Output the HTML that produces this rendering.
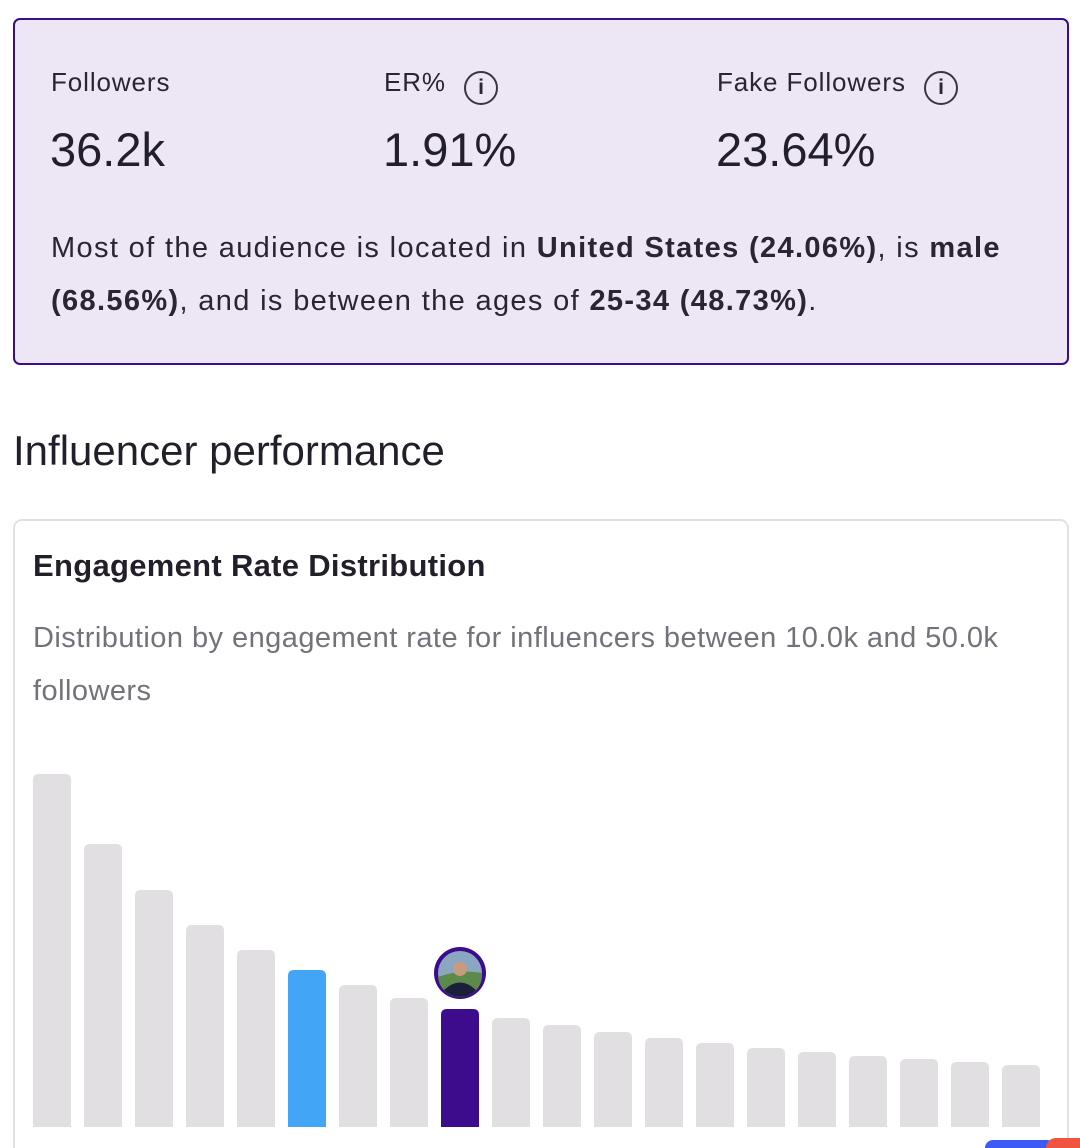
<!DOCTYPE html>
<html><head><meta charset="utf-8"><style>
html,body{margin:0;width:1080px;height:1148px;overflow:hidden}
body{background:#fff;font-family:"Liberation Sans",sans-serif;color:#231f2a;position:relative}
.abs{position:absolute}
#summary{left:13px;top:18px;width:1056px;height:347px;background:#ede6f4;border:2px solid #3d0c8c;border-radius:7px;box-sizing:border-box}
.lbl{font-size:26px;top:67px;color:#2a2530;letter-spacing:0.9px}
.val{font-size:47px;top:122px;color:#231f2a}
.info{display:inline-block;width:34px;height:34px;border:2.5px solid #3a3540;border-radius:50%;box-sizing:border-box;text-align:center;font-size:21px;line-height:29px;font-weight:bold;vertical-align:-3px;margin-left:10px;letter-spacing:0}
#sent{left:51px;top:222px;width:1000px;font-size:29px;line-height:53px;color:#2a2530;letter-spacing:1.35px}
#perf{left:13px;top:427px;font-size:42px;color:#231f2a}
#card{left:13px;top:519px;width:1056px;height:640px;border:2px solid #e2e0e4;border-radius:9px;box-sizing:border-box}
#ctitle{left:33px;top:548px;font-size:31px;font-weight:bold;letter-spacing:0.3px}
#csub{left:33px;top:612px;width:1010px;font-size:29px;line-height:53px;color:#75717a;letter-spacing:0.45px}
</style></head><body>
<div id="summary" class="abs"></div>
<div class="abs lbl" style="left:51px">Followers</div>
<div class="abs val" style="left:50px">36.2k</div>
<div class="abs lbl" style="left:384px">ER% <span class="info">i</span></div>
<div class="abs val" style="left:383px">1.91%</div>
<div class="abs lbl" style="left:717px">Fake Followers <span class="info">i</span></div>
<div class="abs val" style="left:716px">23.64%</div>
<div id="sent" class="abs">Most of the audience is located in <b>United States (24.06%)</b>, is <b>male (68.56%)</b>, and is between the ages of <b>25-34 (48.73%)</b>.</div>
<div id="perf" class="abs">Influencer performance</div>
<div id="card" class="abs"></div>
<div id="ctitle" class="abs">Engagement Rate Distribution</div>
<div id="csub" class="abs">Distribution by engagement rate for influencers between 10.0k and 50.0k followers</div>
<svg id="chart" class="abs" style="left:0;top:0" width="1080" height="1148"></svg>
<div class="abs" style="left:985px;top:1140px;width:70px;height:8px;border-radius:35px 35px 0 0;background:#3b5bf5"></div>
<div class="abs" style="left:1046px;top:1138px;width:34px;height:10px;border-radius:20px 0 0 0;background:#f0533f"></div>
<script>
const bins=["b1","b2","b3","b4","b5","b6","b7","b8","b9","b10","b11","b12","b13","b14","b15","b16","b17","b18","b19","b20"];
const counts=[353,283,237,202,177,157,142,129,118,109,102,95,89,84,79,75,71,68,65,62];
const highlightIndex=5;
const influencerIndex=8;
const NS="http://www.w3.org/2000/svg";
const svg=document.getElementById('chart');
const x0=33,pitch=51,bw=38,base=1127,hmax=353;
const maxV=Math.max(...counts);
function xs(i){return x0+i*pitch;}
function ys(v){return base-v/maxV*hmax;}
counts.forEach((v,i)=>{
  const r=document.createElementNS(NS,'path');
  const x=xs(i),y=ys(v),rr=6;
  r.setAttribute('d',`M${x},${base}V${y+rr}Q${x},${y} ${x+rr},${y}H${x+bw-rr}Q${x+bw},${y} ${x+bw},${y+rr}V${base}Z`);
  r.setAttribute('fill',i===highlightIndex?'#42a5f5':i===influencerIndex?'#3d0c8c':'#e1dfe2');
  
  
  svg.appendChild(r);
});
const cx=xs(influencerIndex)+bw/2,cy=ys(counts[influencerIndex])-36;
const g=document.createElementNS(NS,'g');


g.innerHTML=`<circle cx="${cx}" cy="${cy}" r="26" fill="#3d0c8c"/><circle cx="${cx}" cy="${cy}" r="22" fill="#8aa6c0"/><path d="M${cx-22},${cy+4}Q${cx},${cy-4} ${cx+22},${cy}A22 22 0 0 1 ${cx-22},${cy+4}Z" fill="#5c8a4a"/><circle cx="${cx}" cy="${cy-4}" r="7" fill="#c89a80"/><path d="M${cx-16},${cy+17}Q${cx},${cy+2} ${cx+16},${cy+17}A22 22 0 0 1 ${cx-16},${cy+17}Z" fill="#1c1f3a"/>`;
svg.appendChild(g);
</script>
</body></html>
